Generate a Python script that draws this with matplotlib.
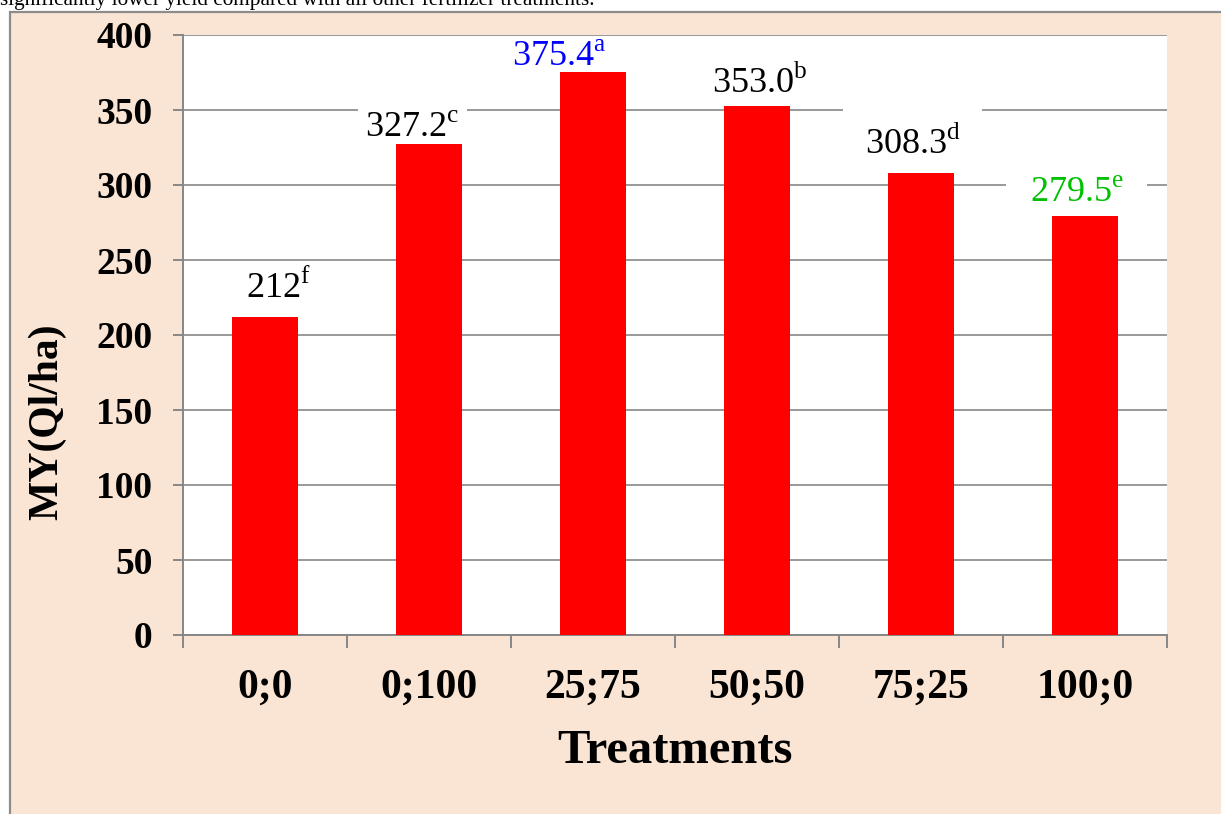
import matplotlib
matplotlib.use("Agg")
import matplotlib.pyplot as plt
from matplotlib.patches import Rectangle

# Marketable yield per fertilizer treatment (Ql/ha) with significance letters
treatments = ["0;0", "0;100", "25;75", "50;50", "75;25", "100;0"]
yields = [212, 327.2, 375.4, 353.0, 308.3, 279.5]
value_text = ["212", "327.2", "375.4", "353.0", "308.3", "279.5"]
letters = ["f", "c", "a", "b", "d", "e"]
label_colors = ["black", "black", "#0000ff", "black", "black", "#00c000"]
y_ticks = [0, 50, 100, 150, 200, 250, 300, 350, 400]

# label placement tweaks (points) and white box padding (None = no box)
label_dx = [10, -12, -24, 2, -6, -6]
label_dy = [14, 5, 4, 9, 13, 10]
label_pad = [0.2, 0.2, None, 0.2, 0.6, 0.65]

plt.rcParams["font.family"] = "Liberation Serif"
plt.rcParams["mathtext.fontset"] = "custom"
plt.rcParams["mathtext.rm"] = "Liberation Serif"

grey = "#878787"

fig = plt.figure(figsize=(12.21, 8.14), dpi=100)
fig.patch.set_facecolor("white")

# chart area frame
frame = Rectangle((10 / 1221, -0.01), 1.0, 1 - 12 / 814 + 0.01,
                  transform=fig.transFigure, facecolor="#fae5d4",
                  edgecolor="#8c8c8c", linewidth=1.6, zorder=-5)
fig.add_artist(frame)

fig.text(0.0, 1 - 5 / 814, "significantly lower yield compared with all other fertilizer treatments.",
         fontsize=15.3, va="baseline", ha="left")

ax = fig.add_axes([183 / 1221, 1 - 635 / 814, (1167 - 183) / 1221, 600 / 814])
ax.set_facecolor("white")

x = list(range(len(treatments)))
ax.bar(x, yields, width=0.4, color="#ff0000", zorder=4)

ax.set_xlim(-0.5, len(treatments) - 0.5)
ax.set_ylim(0, 400)
ax.set_yticks(y_ticks)
ax.set_yticklabels([str(v) for v in y_ticks], fontsize=27, fontweight="bold")

# category boundaries carry the ticks, labels sit at the centres
ax.set_xticks([i - 0.5 for i in range(len(treatments) + 1)])
ax.set_xticklabels([])
ax.set_xticks(x, minor=True)
ax.set_xticklabels(treatments, minor=True, fontsize=30, fontweight="bold")
ax.tick_params(axis="x", which="major", length=9, width=1.4, color=grey, direction="out")
ax.tick_params(axis="x", which="minor", length=0, pad=24)
ax.tick_params(axis="y", length=7, width=1.4, color=grey, direction="out", pad=15)

ax.set_axisbelow(True)
ax.yaxis.grid(True, color=grey, linewidth=1.2)
for side in ["top", "right"]:
    ax.spines[side].set_visible(False)
for side in ["left", "bottom"]:
    ax.spines[side].set_color(grey)
    ax.spines[side].set_linewidth(1.4)

for i, v in enumerate(yields):
    box = None
    if label_pad[i] is not None:
        box = dict(boxstyle="square,pad=%s" % label_pad[i], facecolor="white", edgecolor="none")
    ax.annotate(value_text[i] + r"$^{\mathrm{" + letters[i] + "}}$",
                xy=(i, v), xytext=(label_dx[i], label_dy[i]), textcoords="offset points",
                ha="center", va="baseline", fontsize=26, color=label_colors[i], zorder=3,
                bbox=box)

ax.set_xlabel("Treatments", fontsize=35, fontweight="bold", labelpad=16)
fig.text(47 / 1221, 1 - 422 / 814, "MY(Ql/ha)", rotation=90, fontsize=30,
         fontweight="bold", ha="center", va="center")

fig.savefig("out.png", dpi=100)
